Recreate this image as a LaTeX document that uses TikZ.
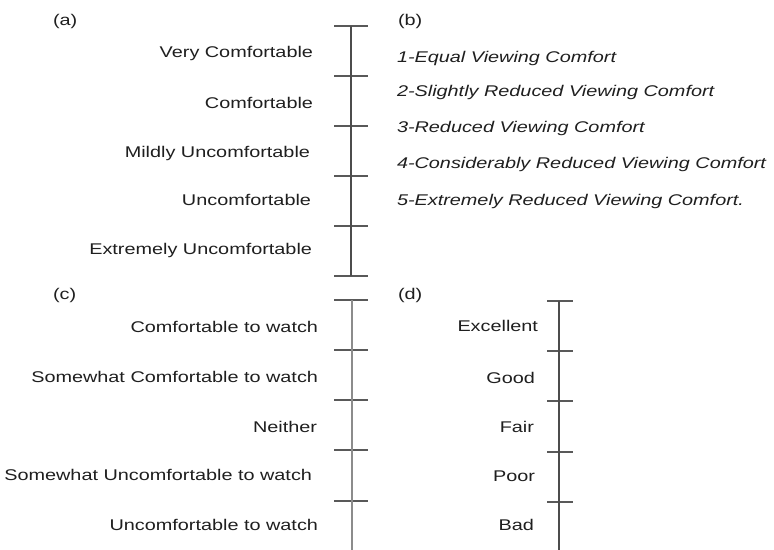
\documentclass[tikz,border=0pt]{standalone}
\usepackage{fontspec}
\setmainfont{Liberation Sans}[FakeStretch=1.28]
\begin{document}
\begin{tikzpicture}[x=1bp,y=-1bp,
  lbl/.style={inner sep=0pt,outer sep=0pt,text=black!88,font=\fontsize{15.5bp}{18bp}\selectfont},
  rlbl/.style={lbl,anchor=base east},
  llbl/.style={lbl,anchor=base west},
  blbl/.style={lbl,anchor=base west,font=\fontsize{15.5bp}{18bp}\selectfont\itshape},
  axisline/.style={line width=1.5bp,draw=black!70},
  axislight/.style={line width=1.5bp,draw=black!45},
  tickline/.style={line width=1.1bp,draw=black!65}]
\useasboundingbox (0,0) rectangle (774,550);
\fill[white] (0,0) rectangle (774,550);

% ---------- panel (a)
\node[llbl] (la) at (53,26) {(a)};
\foreach \i/\y in {0/26,1/76,2/126,3/176,4/226,5/276}{
  \coordinate (a\i) at (351,\y);
  \coordinate (aL\i) at (334,\y);
  \coordinate (aR\i) at (368,\y);
  \draw[tickline] (aL\i) -- (aR\i);
}
\draw[axisline] (a0) -- (a5);
\node[rlbl] (a1t) at (313,58) {Very Comfortable};
\node[rlbl] (a2t) at (313,108.5) {Comfortable};
\node[rlbl] (a3t) at (310,158) {Mildly Uncomfortable};
\node[rlbl] (a4t) at (311,206) {Uncomfortable};
\node[rlbl] (a5t) at (312,254.5) {Extremely Uncomfortable};

% ---------- panel (b)
\node[llbl] (lb) at (398,26) {(b)};
\node[blbl] (b1) at (397,63) {1-Equal Viewing Comfort};
\node[blbl] (b2) at (397,96.5) {2-Slightly Reduced Viewing Comfort};
\node[blbl] (b3) at (397,132.5) {3-Reduced Viewing Comfort};
\node[blbl] (b4) at (397,168.5) {4-Considerably Reduced Viewing Comfort};
\node[blbl] (b5) at (397,205.5) {5-Extremely Reduced Viewing Comfort.};

% ---------- panel (c)
\node[llbl] (lc) at (53,300) {(c)};
\foreach \i/\y in {0/300,1/350,2/400,3/450,4/501,5/551}{
  \coordinate (c\i) at (352,\y);
  \coordinate (cL\i) at (334,\y);
  \coordinate (cR\i) at (368,\y);
  \draw[tickline] (cL\i) -- (cR\i);
}
\draw[axislight] (c0) -- (c5);
\node[rlbl] (c1t) at (318,332.5) {Comfortable to watch};
\node[rlbl] (c2t) at (318,382.5) {Somewhat Comfortable to watch};
\node[rlbl] (c3t) at (317,432.5) {Neither};
\node[rlbl] (c4t) at (312,480.5) {Somewhat Uncomfortable to watch};
\node[rlbl] (c5t) at (318,530.5) {Uncomfortable to watch};

% ---------- panel (d)
\node[llbl] (ld) at (398,300) {(d)};
\foreach \i/\y in {0/301,1/351,2/401,3/452,4/502}{
  \coordinate (d\i) at (559,\y);
  \coordinate (dL\i) at (547,\y);
  \coordinate (dR\i) at (573,\y);
  \draw[tickline] (dL\i) -- (dR\i);
}
\coordinate (dEnd) at (559,551);
\draw[axisline] (d0) -- (dEnd);
\node[rlbl] (d1t) at (538,331.5) {Excellent};
\node[rlbl] (d2t) at (535,383.5) {Good};
\node[rlbl] (d3t) at (534,432.5) {Fair};
\node[rlbl] (d4t) at (535,481.5) {Poor};
\node[rlbl] (d5t) at (534,530.5) {Bad};
\end{tikzpicture}
\end{document}
